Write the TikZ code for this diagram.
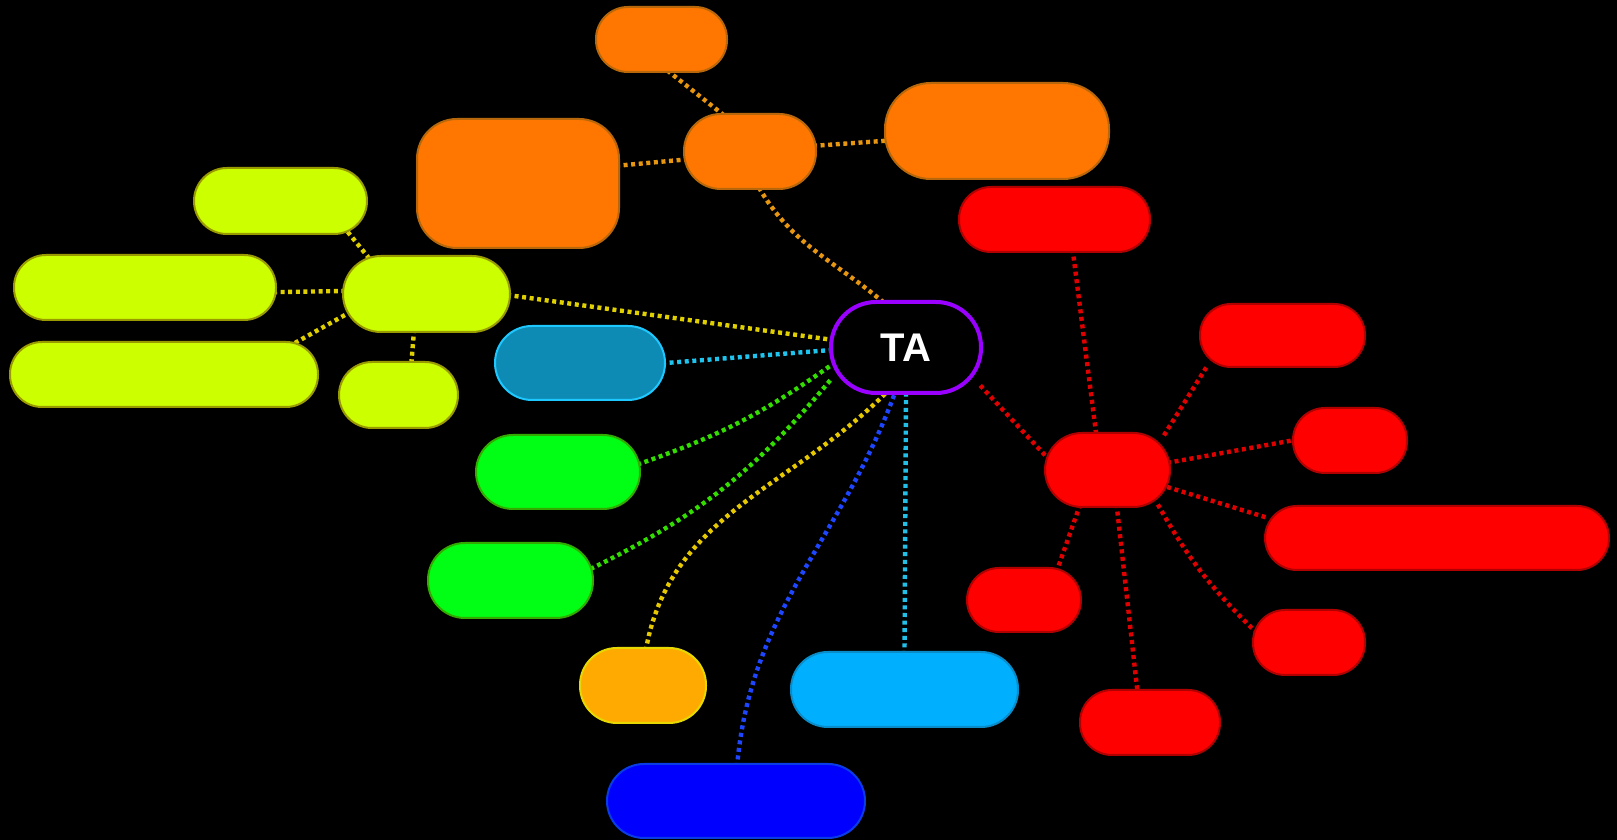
\documentclass[tikz,border=0pt]{standalone}
\usepackage{fontspec}
\newfontfamily\tafont{Liberation Sans}
\pgfdeclarelayer{back}
\pgfsetlayers{back,main}
\definecolor{limefill}{HTML}{CCFF00}
\definecolor{limeline}{HTML}{999900}
\definecolor{orangefill}{HTML}{FF7700}
\definecolor{orangeline}{HTML}{B8680A}
\definecolor{redfill}{HTML}{FF0000}
\definecolor{redline}{HTML}{B00000}
\definecolor{tealfill}{HTML}{0E8BB5}
\definecolor{tealline}{HTML}{1EC8FF}
\definecolor{greenfill}{HTML}{00FF14}
\definecolor{greenline}{HTML}{33AA00}
\definecolor{goldfill}{HTML}{FFAA00}
\definecolor{goldline}{HTML}{E6D800}
\definecolor{skyfill}{HTML}{00B0FF}
\definecolor{skyline}{HTML}{0A8CC8}
\definecolor{bluefill}{HTML}{0000FF}
\definecolor{blueline}{HTML}{0A3CE6}
\definecolor{tapurple}{HTML}{9900FF}
\definecolor{olinkc}{HTML}{E69610}
\definecolor{ylinkc}{HTML}{E0D000}
\definecolor{tlinkc}{HTML}{1EC3EE}
\definecolor{glinkc}{HTML}{33DD00}
\definecolor{gdlinkc}{HTML}{E6C800}
\definecolor{blinkc}{HTML}{1E46FF}
\definecolor{slinkc}{HTML}{22C0E8}
\definecolor{rlinkc}{HTML}{E00000}
\tikzset{
  box/.style={draw,rectangle,inner sep=0pt,line width=1pt},
  hub/.style={draw=tapurple,fill=black,rectangle,rounded corners=22.5pt,line width=2pt,
    text=white,font=\tafont\bfseries\fontsize{20}{24}\selectfont,
    minimum width=75pt,minimum height=45.5pt},
  link/.style={draw=#1,line width=2.2pt,dash pattern=on 2pt off 1.8pt,
    shorten <=-2pt,shorten >=-2pt}
}
\begin{document}
\begin{tikzpicture}[x=0.5pt,y=0.5pt]
  \useasboundingbox (0,0) rectangle (1617,840);
  % branches
  \foreach \name/\cx/\cy/\w/\h/\r/\fillc/\linec in {
    otop/661.5/39.5/131/65/32/orangefill/orangeline,
    ohub/750/151.5/132/75/37/orangefill/orangeline,
    obig/518/183.5/202/129/40/orangefill/orangeline,
    oright/997/131/224/96/46/orangefill/orangeline,
    ytop/280.5/201/173/66/33/limefill/limeline,
    yleft/145/287.5/262/65/32/limefill/limeline,
    yhub/426.5/294/167/76/38/limefill/limeline,
    ylong/164/374.5/308/65/32/limefill/limeline,
    ysmall/398.5/395/119/66/33/limefill/limeline,
    teal/580/363/170/74/37/tealfill/tealline,
    gup/558/472/164/74/37/greenfill/greenline,
    gdown/510.5/580.5/165/75/37/greenfill/greenline,
    gold/643/685.5/126/75/37/goldfill/goldline,
    sky/904.5/689.5/227/75/37/skyfill/skyline,
    blue/736/801/258/74/37/bluefill/blueline,
    rtop/1054.5/219.5/191/65/32/redfill/redline,
    rhub/1107.5/470/125/74/37/redfill/redline,
    rone/1282.5/335.5/165/63/31/redfill/redline,
    rtwo/1350/440.5/114/65/32/redfill/redline,
    rlong/1437/538/344/64/32/redfill/redline,
    rthree/1309/642.5/112/65/32/redfill/redline,
    rbot/1150/722.5/140/65/32/redfill/redline,
    rleft/1024/600/114/64/32/redfill/redline}
    \node[box,fill=\fillc,draw=\linec,rounded corners=\r*0.5pt,
      minimum width=\w*0.5pt,minimum height=\h*0.5pt]
      (\name) at (\cx,{840-\cy}) {};
  \node[hub] (ta) at (906,{840-347.5}) {TA};
  \begin{pgfonlayer}{back}
    \fill[black] (0,0) rectangle (1617,840);
    % orange
    \draw[link=olinkc] (otop.-75) -- (ohub.127);
    \draw[link=olinkc] (obig.10) -- (ohub.187);
    \draw[link=olinkc] (ohub.5) -- (oright.185);
    \draw[link=olinkc] (ta.118) to[out=140,in=-60] (ohub.-75);
    % yellow
    \draw[link=ylinkc] (ytop.-26) -- (yhub.147);
    \draw[link=ylinkc] (yleft.-2) -- (yhub.178);
    \draw[link=ylinkc] (ylong.14) -- (yhub.195);
    \draw[link=ylinkc] (yhub.-108) -- (ysmall.69);
    \draw[link=ylinkc] (yhub.-1) -- (ta.174);
    % lower left
    \draw[link=tlinkc] (teal.east) -- (ta.182);
    \draw[link=glinkc] (gup.6) to[bend right=8] (ta.194);
    \draw[link=glinkc] (gdown.9) to[bend right=12] (ta.204);
    \draw[link=gdlinkc] (gold.85) to[out=80,in=-135] (ta.245);
    \draw[link=blinkc] (blue.88) to[out=85,in=-110] (ta.256);
    \draw[link=slinkc] (sky.north) -- (ta.south);
    % red
    \draw[link=rlinkc] (ta.-28) -- (rhub.166);
    \draw[link=rlinkc] (rtop.-61) -- (rhub.107);
    \draw[link=rlinkc] (rhub.33) -- (rone.203);
    \draw[link=rlinkc] (rhub.7) -- (rtwo.west);
    \draw[link=rlinkc] (rhub.-16) -- (rlong.173);
    \draw[link=rlinkc] (rhub.-36) to[bend right=8] (rthree.166);
    \draw[link=rlinkc] (rhub.-76) -- (rbot.111);
    \draw[link=rlinkc] (rhub.-127) -- (rleft.44);
  \end{pgfonlayer}
\end{tikzpicture}
\end{document}
